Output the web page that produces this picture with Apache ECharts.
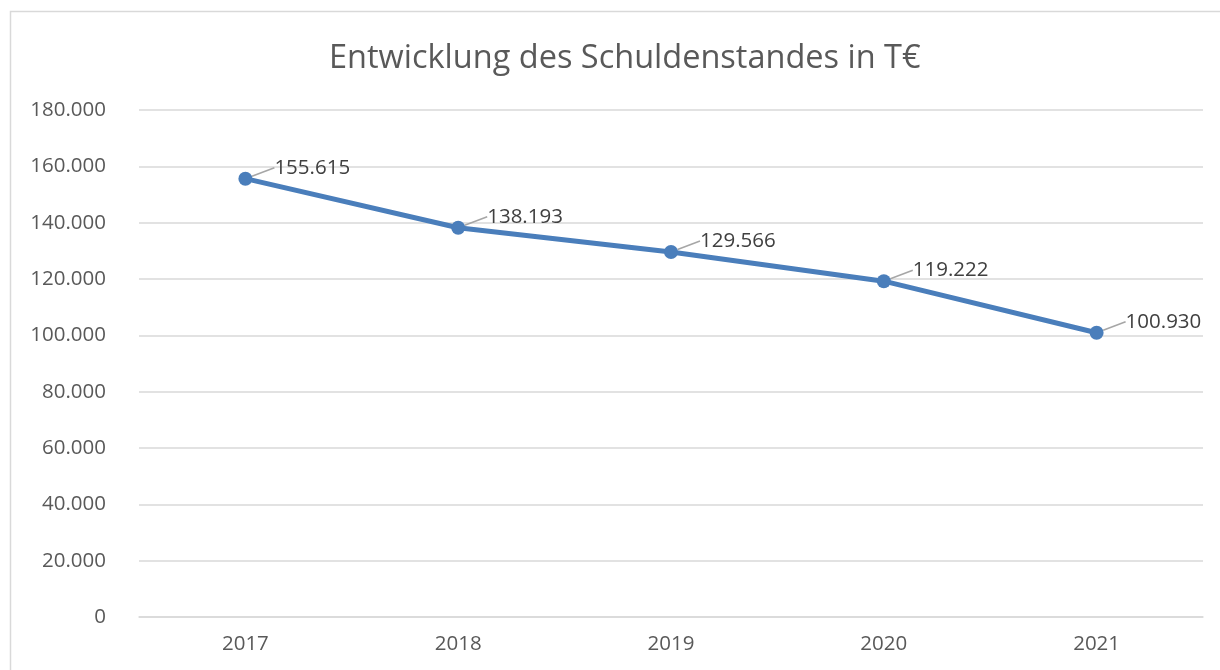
<!DOCTYPE html>
<html><head><meta charset="utf-8">
<script src="https://cdn.jsdelivr.net/npm/echarts@6/dist/echarts.min.js"></script>
<style>html,body{margin:0;padding:0;background:#fff}#c{width:1220px;height:670px}</style>
</head><body><div id="c"></div>
<script>
const categories = ['2017','2018','2019','2020','2021'];
const values = [155615, 138193, 129566, 119222, 100930];
const titleText = 'Entwicklung des Schuldenstandes in T€';

const fmt = v => v === 0 ? '0' : v.toLocaleString('de-DE');
const chart = echarts.init(document.getElementById('c'));
chart.setOption({
  animation: false,
  textStyle: {fontFamily: 'Open Sans, Noto Sans, sans-serif'},
  graphic: [{type:'rect', shape:{x:10.5,y:11.5,width:1220,height:680}, style:{fill:'none', stroke:'#d9d9d9', lineWidth:1.5}, silent:true}],
  title: {text: titleText, left: 324, top: 37, textStyle:{fontSize: 32.5, fontWeight:'normal', color:'#595959', fontFamily:'Open Sans, sans-serif'}},
  grid: {left: 139, right: 17, top: 110, bottom: 53},
  xAxis: {type:'category', data: categories, boundaryGap: true,
    axisLine:{show:true, lineStyle:{color:'#d9d9d9', width:1.5}}, axisTick:{show:false},
    axisLabel:{color:'#595959', fontSize:20.5, margin:17}},
  yAxis: {type:'value', min:0, max:180000, interval:20000,
    axisLine:{show:false}, axisTick:{show:false},
    splitLine:{lineStyle:{color:'#d9d9d9', width:1.5}},
    axisLabel:{color:'#595959', fontSize:20.5, margin:33, formatter: fmt}},
  series: [{type:'line', data: values, symbol:'circle', symbolSize:14,
    lineStyle:{color:'#4a7ebb', width:5}, itemStyle:{color:'#4a7ebb'},
    label:{show:true, position:'right', distance:8, color:'#404040', fontSize:20.5, formatter: p => fmt(p.value)},
    labelLayout:{dx:14, dy:-11},
    labelLine:{show:true, lineStyle:{color:'#a6a6a6', width:1.5}}
  }]
});
</script></body></html>
